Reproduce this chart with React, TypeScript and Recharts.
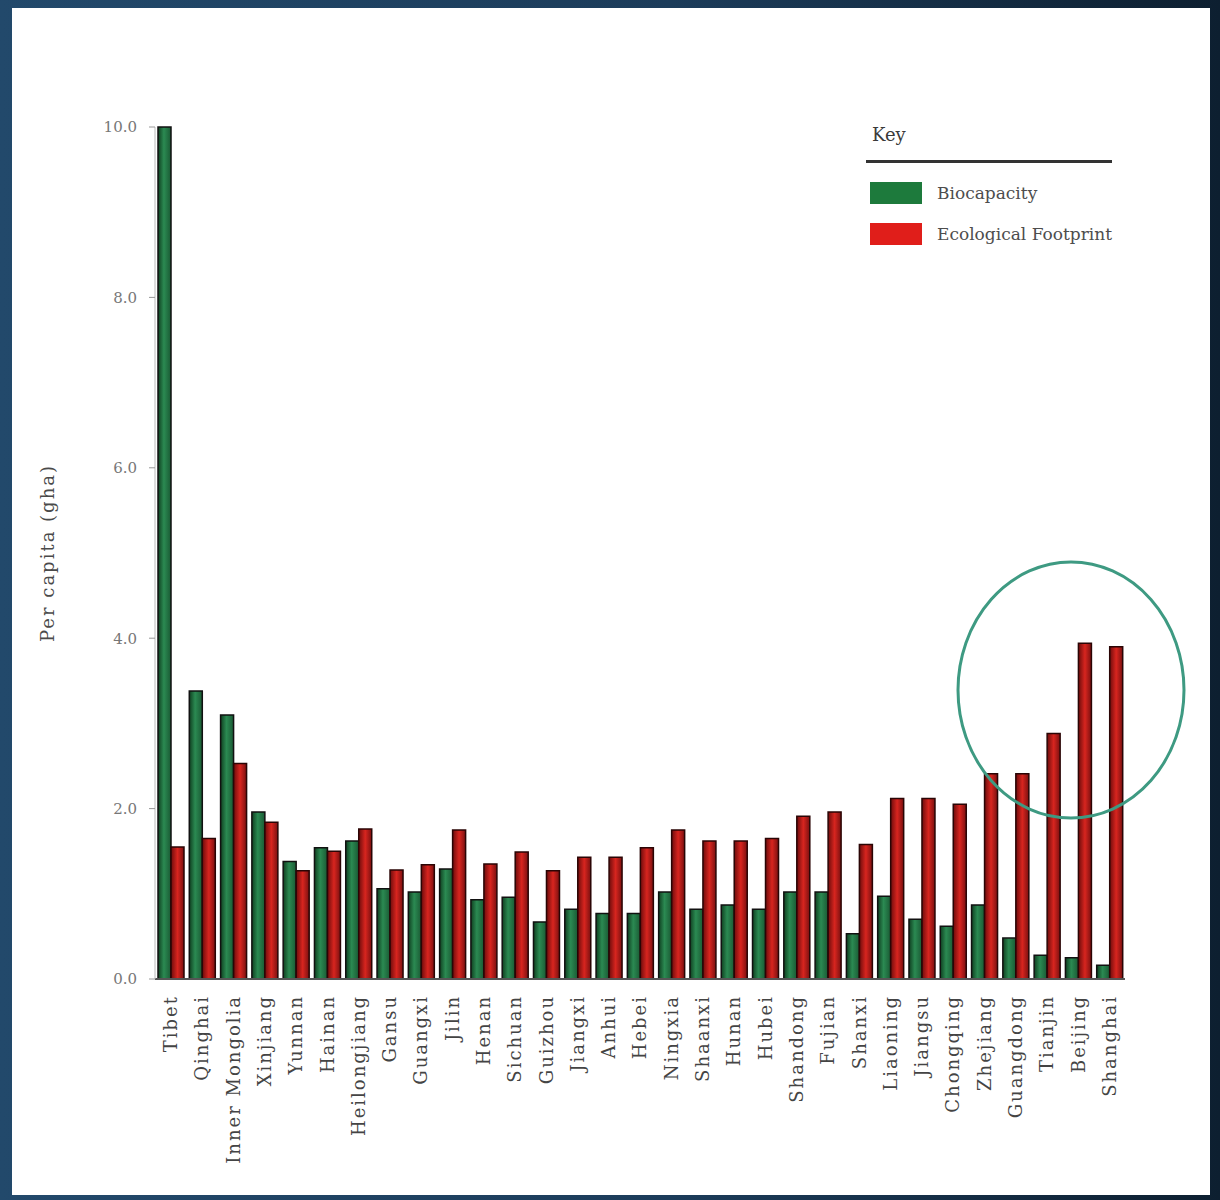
import React from "react";
import { BarChart, Bar, XAxis, YAxis } from "recharts";

// provinces, sorted roughly as in the source figure
const provinces = [
  "Tibet", "Qinghai", "Inner Mongolia", "Xinjiang", "Yunnan", "Hainan",
  "Heilongjiang", "Gansu", "Guangxi", "Jilin", "Henan", "Sichuan", "Guizhou",
  "Jiangxi", "Anhui", "Hebei", "Ningxia", "Shaanxi", "Hunan", "Hubei",
  "Shandong", "Fujian", "Shanxi", "Liaoning", "Jiangsu", "Chongqing",
  "Zhejiang", "Guangdong", "Tianjin", "Beijing", "Shanghai",
];

const biocapacity = [
  10.0, 3.38, 3.1, 1.96, 1.38, 1.54, 1.62, 1.06, 1.02, 1.29, 0.93, 0.96, 0.67,
  0.82, 0.77, 0.77, 1.02, 0.82, 0.87, 0.82, 1.02, 1.02, 0.53, 0.97, 0.7, 0.62,
  0.87, 0.48, 0.28, 0.25, 0.16,
];

const footprint = [
  1.55, 1.65, 2.53, 1.84, 1.27, 1.5, 1.76, 1.28, 1.34, 1.75, 1.35, 1.49, 1.27,
  1.43, 1.43, 1.54, 1.75, 1.62, 1.62, 1.65, 1.91, 1.96, 1.58, 2.12, 2.12, 2.05,
  2.41, 2.41, 2.88, 3.94, 3.9,
];

const yTicks = [0, 2, 4, 6, 8, 10];

const keyItems = [
  { label: "Biocapacity", color: "#1d7a3c" },
  { label: "Ecological Footprint", color: "#e01e1a" },
];

const data = provinces.map((name, i) => ({
  name,
  bio: biocapacity[i],
  eco: footprint[i],
}));

const SERIF = "'DejaVu Serif', 'Liberation Serif', serif";

function ProvinceTick(props: any) {
  const { x, y, payload } = props;
  return (
    <g transform={`translate(${x},${y})`}>
      <text
        transform="rotate(-90)"
        textAnchor="end"
        dy="0.36em"
        fill="#444"
        fontSize={18}
        letterSpacing={2}
        fontFamily={SERIF}
      >
        {payload.value}
      </text>
    </g>
  );
}

// the "Key" box in the top right corner
function KeyBox() {
  return (
    <div
      style={{
        position: "absolute",
        left: 866,
        top: 124,
        width: 250,
        fontFamily: SERIF,
        color: "#4d4d4d",
      }}
    >
      <div style={{ fontSize: 18, color: "#3a3a3a", paddingLeft: 6, height: 36 }}>Key</div>
      <div style={{ borderTop: "3px solid #333", width: 246, marginBottom: 10 }} />
      {keyItems.map((it) => (
        <div key={it.label} style={{ display: "flex", alignItems: "center", height: 42, marginTop: -1 }}>
          <div style={{ width: 52, height: 22, background: it.color, marginLeft: 4, marginRight: 15 }} />
          <span style={{ fontSize: 17 }}>{it.label}</span>
        </div>
      ))}
    </div>
  );
}

export default function App() {
  return (
    <div
      style={{
        position: "absolute",
        left: 0,
        top: 0,
        width: 1220,
        height: 1200,
        background: "linear-gradient(90deg, #22496b 0%, #1c3c5a 55%, #0d1f30 100%)",
        overflow: "hidden",
      }}
    >
      <div
        style={{
          position: "absolute",
          left: 12,
          top: 8,
          width: 1198,
          height: 1187,
          background: "#fff",
        }}
      />
      <div style={{ position: "absolute", left: 0, top: 0 }}>
        <BarChart
          width={1220}
          height={1200}
          data={data}
          margin={{ top: 127, right: 95, bottom: 21, left: 0 }}
          barGap={0}
          barSize={13}
        >
          <defs>
            <linearGradient id="gGreen" x1="0" y1="0" x2="1" y2="0">
              <stop offset="0%" stopColor="#0f3f20" />
              <stop offset="45%" stopColor="#2b8a52" />
              <stop offset="100%" stopColor="#1a5a34" />
            </linearGradient>
            <linearGradient id="gRed" x1="0" y1="0" x2="1" y2="0">
              <stop offset="0%" stopColor="#6e0c0c" />
              <stop offset="50%" stopColor="#d8251f" />
              <stop offset="100%" stopColor="#7a1010" />
            </linearGradient>
          </defs>
          <XAxis
            dataKey="name"
            interval={0}
            height={200}
            tick={<ProvinceTick />}
            tickLine={false}
            tickSize={6}
            tickMargin={10}
            axisLine={{ stroke: "#555", strokeWidth: 2 }}
          />
          <YAxis
            domain={[0, 10]}
            ticks={yTicks}
            width={155}
            tickSize={6}
            tickMargin={12}
            tickFormatter={(v: number) => v.toFixed(1)}
            tick={{ fill: "#777", fontSize: 15, fontFamily: SERIF }}
            tickLine={{ stroke: "#999" }}
            axisLine={{ stroke: "#bbb" }}
            label={{
              value: "Per capita (gha)",
              angle: -90,
              position: "insideLeft",
              offset: 48,
              style: {
                textAnchor: "middle",
                fill: "#4a4a4a",
                fontSize: 18,
                letterSpacing: 2,
                fontFamily: SERIF,
              },
            }}
          />
          <Bar
            dataKey="bio"
            name="Biocapacity"
            fill="url(#gGreen)"
            stroke="#111"
            strokeWidth={1.5}
            isAnimationActive={false}
          />
          <Bar
            dataKey="eco"
            name="Ecological Footprint"
            fill="url(#gRed)"
            stroke="#2a0505"
            strokeWidth={1.5}
            isAnimationActive={false}
          />
        </BarChart>
      </div>
      <KeyBox />
      <svg
        width={1220}
        height={1200}
        style={{ position: "absolute", left: 0, top: 0, pointerEvents: "none" }}
      >
        <ellipse cx={1071} cy={690} rx={113} ry={128} fill="none" stroke="#3e9a82" strokeWidth={3} />
      </svg>
    </div>
  );
}
